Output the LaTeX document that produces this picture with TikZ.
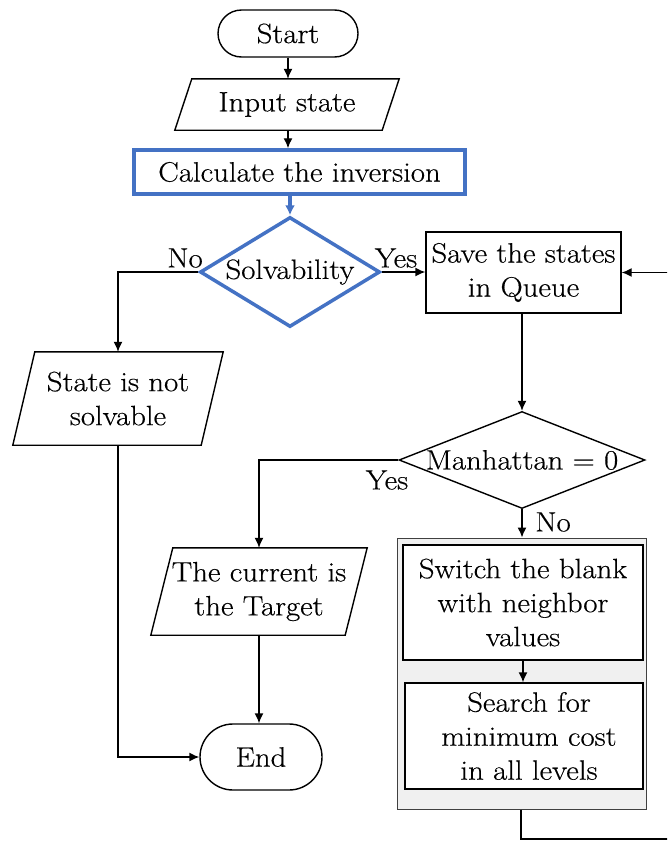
\documentclass[tikz,border=0pt]{standalone}
\usepackage{fontspec}
\setmainfont{Latin Modern Roman}[FakeStretch=1.1, FakeBold=0.4]
\usetikzlibrary{shapes.geometric,shapes.misc,arrows.meta}
\definecolor{flowblue}{HTML}{4472C4}
\definecolor{groupgray}{HTML}{F0F0F0}
\definecolor{groupedge}{HTML}{404040}
% slanted input/output box drawn around a named rectangular node
\newcommand\pgramdraw[2]{%
  \draw[ln] ([xshift=#2/2]#1.north west) -- ([xshift=#2/2]#1.north east)
    -- ([xshift=-#2/2]#1.south east) -- ([xshift=-#2/2]#1.south west) -- cycle;}
\begin{document}
\begin{tikzpicture}[x=1pt,y=-1pt,
  font=\fontsize{28}{34}\selectfont,
  ln/.style={line width=1.4pt, draw=black},
  arr/.style={ln,-{Latex[length=10pt,width=9pt]}},
  barr/.style={line width=3.5pt, draw=flowblue, -{Latex[length=10pt,width=10pt]}},
  term/.style={rounded rectangle, ln, inner sep=0pt},
  proc/.style={rectangle, ln, inner sep=0pt, align=center},
  io/.style={rectangle, inner sep=0pt, align=center},
  dec/.style={diamond, ln, inner sep=0pt},
  lbl/.style={inner sep=0pt}
]
\useasboundingbox (0,0) rectangle (667,841);
\fill[white] (0,0) rectangle (667,841);
\clip (0,0) rectangle (667,841);

% main column
\node[term, minimum width=140, minimum height=47] (start) at (288,33.5) {Start};
\node[io, minimum width=207, minimum height=51] (input) at (287,104.5) {Input state};
\pgramdraw{input}{17}
\node[proc, draw=flowblue, line width=3.5pt, minimum width=331, minimum height=44] (calc) at (299.5,172) {Calculate the inversion};
\node[dec, draw=flowblue, line width=3.5pt, aspect=1.64, minimum width=180, minimum height=110] (solv) at (290,272) {Solvability};

% right branch
\node[proc, minimum width=195, minimum height=81] (save) at (523.5,272.5) {Save the states\\in Queue};
\node[dec, aspect=2.54, minimum width=246, minimum height=97] (man) at (522,460) {Manhattan = 0};
\node[rectangle, fill=groupgray, draw=groupedge, line width=1pt, minimum width=249, minimum height=271] (group) at (521.5,673.5) {};
\node[proc, fill=white, minimum width=240, minimum height=115] (switch) at (523,602.5) {Switch the blank\\with neighbor\\values};
\node[proc, fill=white, minimum width=238, minimum height=106] (search) at (524,736) {\hspace*{10pt}Search for\\\hspace*{10pt}minimum cost\\\hspace*{10pt}in all levels};

% left branch
\node[io, minimum width=188, minimum height=93] (notsolv) at (118,398.5) {State is not\\solvable};
\pgramdraw{notsolv}{22}
\node[io, minimum width=194, minimum height=87] (current) at (259,591.5) {The current is\\the Target};
\pgramdraw{current}{22}
\node[term, minimum width=122, minimum height=66] (end) at (261,757) {End};

% branch labels
\node[lbl] (noA) at (185,258) {No};
\node[lbl] (yesA) at (396,258) {Yes};
\node[lbl] (yesB) at (387,480) {Yes};
\node[lbl] (noB) at (553,522) {No};

% connectors
\draw[arr] (start.south) -- (start.south |- input.north);
\draw[arr] (start.south |- input.south) -- (start.south |- calc.north);
\draw[barr] (solv.north |- calc.south) -- (solv.north);
\draw[arr] (solv.east) -- (solv.east -| save.west);
\draw[arr] (solv.west) -| (notsolv.north);
\draw[arr] (notsolv.south) |- (end.west);
\draw[arr] (man.north |- save.south) -- (man.north);
\draw[arr] (man.west) -| (current.north);
\draw[arr] (man.south) -- (man.south |- group.north);
\draw[arr] (switch.south) -- (switch.south |- search.north);
\draw[arr] (current.south) -- (current.south |- end.north);

% loop back to the queue
\coordinate (loopB) at (521,839);
\coordinate (loopR) at (675,839);
\draw[arr] (loopB |- group.south) -- (loopB) -- (loopR) -- (loopR |- save.east) -- (save.east);
\end{tikzpicture}
\end{document}
